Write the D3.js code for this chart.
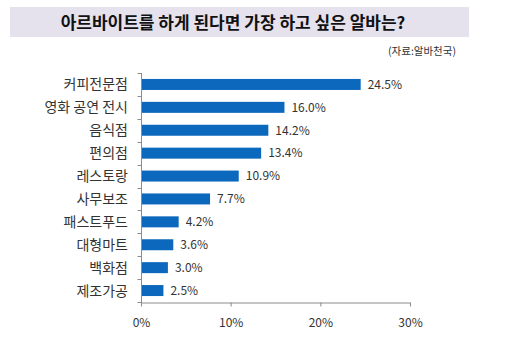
<!DOCTYPE html>
<html><head><meta charset="utf-8">
<script src="https://cdn.jsdelivr.net/npm/d3@7"></script>
<style>
body{margin:0;background:#fff;}
svg{display:block;}
text{font-family:"Noto Sans CJK KR","Noto Sans",sans-serif;}
</style></head>
<body>
<svg id="chart" width="514" height="337"></svg>
<script>
const categories = ["커피전문점","영화 공연 전시","음식점","편의점","레스토랑","사무보조","패스트푸드","대형마트","백화점","제조가공"];
const values = [24.5,16.0,14.2,13.4,10.9,7.7,4.2,3.6,3.0,2.5];
const valueLabels = ["24.5%","16.0%","14.2%","13.4%","10.9%","7.7%","4.2%","3.6%","3.0%","2.5%"];
const xTicks = [0,10,20,30];
const title = "아르바이트를 하게 된다면 가장 하고 싶은 알바는?";
const source = "(자료:알바천국)";

const svg = d3.select("#chart");

// title banner
svg.append("rect").attr("x",10).attr("y",7).attr("width",459).attr("height",30).attr("fill","#e5e1ed");
svg.append("text").attr("x",233).attr("y",29).attr("text-anchor","middle")
  .attr("font-size",17).attr("font-weight","bold").attr("fill","#111").text(title);
svg.append("text").attr("x",456).attr("y",55).attr("text-anchor","end")
  .attr("font-size",10.5).attr("fill","#333").text(source);

const x = d3.scaleLinear().domain([0,30]).range([141,410]);
const y = d3.scaleBand().domain(categories).range([73,302]).paddingInner(0.52).paddingOuter(0.26);

// bars
svg.append("g").selectAll("rect").data(values).join("rect")
  .attr("x",x(0)).attr("y",(d,i)=>y(categories[i]))
  .attr("width",d=>x(d)-x(0)).attr("height",y.bandwidth())
  .attr("fill","#0b68bd");

// value labels
svg.append("g").selectAll("text").data(values).join("text")
  .attr("x",d=>x(d)+7).attr("y",(d,i)=>y(categories[i])+y.bandwidth()/2)
  .attr("dy","0.36em").attr("font-size",12).attr("fill","#333")
  .attr("font-family","'Noto Sans',sans-serif")
  .text((d,i)=>valueLabels[i]);

// x axis
const xAxis = d3.axisBottom(x).tickValues(xTicks).tickFormat(d=>d+"%").tickSize(4).tickPadding(12);
const gx = svg.append("g").attr("transform","translate(0,302.5)").call(xAxis);
gx.select(".domain").attr("stroke","#8c8c8c").attr("d","M141.5,0.5H410.5");
gx.selectAll(".tick line").attr("stroke","#8c8c8c");
gx.selectAll(".tick text").attr("font-size",12).attr("fill","#333").attr("font-family","'Noto Sans',sans-serif");

// y axis line with boundary ticks
const step = y.step();
const boundaries = d3.range(categories.length+1).map(i=>73+i*step);
const gy = svg.append("g");
gy.append("line").attr("x1",141.5).attr("x2",141.5).attr("y1",73).attr("y2",303).attr("stroke","#8c8c8c");
gy.selectAll("line.t").data(boundaries).join("line").attr("class","t")
  .attr("x1",137.5).attr("x2",141.5).attr("y1",d=>Math.round(d)+0.5).attr("y2",d=>Math.round(d)+0.5).attr("stroke","#8c8c8c");

// category labels
svg.append("g").selectAll("text").data(categories).join("text")
  .attr("x",128).attr("y",d=>y(d)+y.bandwidth()/2).attr("dy","0.36em")
  .attr("text-anchor","end").attr("font-size",14).attr("fill","#333").text(d=>d);
</script>
</body></html>
